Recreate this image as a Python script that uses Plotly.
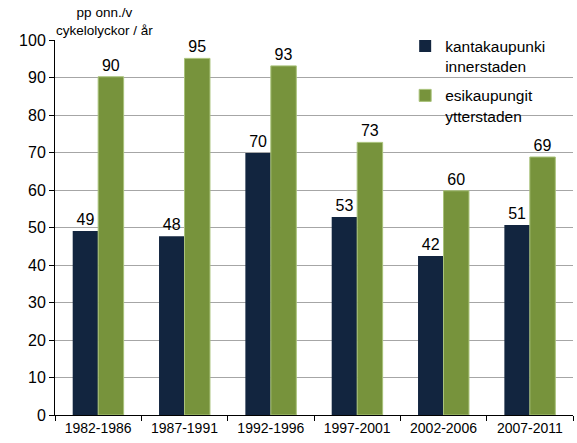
import plotly.graph_objects as go

periods = ["1982-1986", "1987-1991", "1992-1996", "1997-2001", "2002-2006", "2007-2011"]
inner = [49.1, 47.7, 69.9, 52.8, 42.4, 50.7]
outer = [90.2, 95.1, 93.1, 72.7, 59.8, 68.8]
inner_name = "kantakaupunki<br>innerstaden"
outer_name = "esikaupungit<br>ytterstaden"
y_title = "pp onn./v<br>cykelolyckor / år"

font = "Liberation Sans, Arial, sans-serif"

fig = go.Figure()
fig.add_trace(go.Bar(
   x=periods, y=inner, name=inner_name, legendgroup="a",
   marker=dict(color="#12253F", line=dict(width=0)),
   texttemplate="%{y:.0f}", textposition="outside",
   textfont=dict(size=16, color="#000"), cliponaxis=False,
))
fig.add_trace(go.Bar(
   x=periods, y=outer, name=outer_name, legendgroup="b",
   marker=dict(color="#77933C", line=dict(color="#A9C27A", width=1)),
   texttemplate="%{y:.0f}", textposition="outside",
   textfont=dict(size=16, color="#000"), cliponaxis=False,
))

fig.update_layout(
   width=577, height=443,
   margin=dict(l=55, r=4, t=40, b=28),
   paper_bgcolor="white", plot_bgcolor="white",
   font=dict(family=font, color="#000"),
   barmode="group", bargap=0.41, bargroupgap=0,
   showlegend=True,
   legend=dict(x=0.676, y=1.028, xanchor="left", yanchor="top",
               bgcolor="rgba(0,0,0,0)", font=dict(size=15.5),
               tracegroupgap=6, itemwidth=30, valign="top"),
   xaxis=dict(showline=True, linecolor="#000", ticks="outside", tickson="boundaries",
              ticklen=5, tickcolor="#000", tickfont=dict(size=14), showgrid=False),
   yaxis=dict(range=[0, 100], dtick=10, showline=True, linecolor="#000",
              ticks="outside", ticklen=5, tickcolor="#000",
              showgrid=True, gridcolor="#A6A6A6", gridwidth=1,
              tickfont=dict(size=16), zeroline=False),
)

# y axis title above the axis
fig.add_annotation(text=y_title, x=0.0946, y=1.049, xref="paper", yref="paper",
                   showarrow=False, xanchor="center", yanchor="middle",
                   font=dict(size=13.5))

# page body has a default 8px margin, drop it so the figure fills the window
fig.write_html("out.html", config={"displayModeBar": False},
               post_script="document.body.style.margin='0';")
